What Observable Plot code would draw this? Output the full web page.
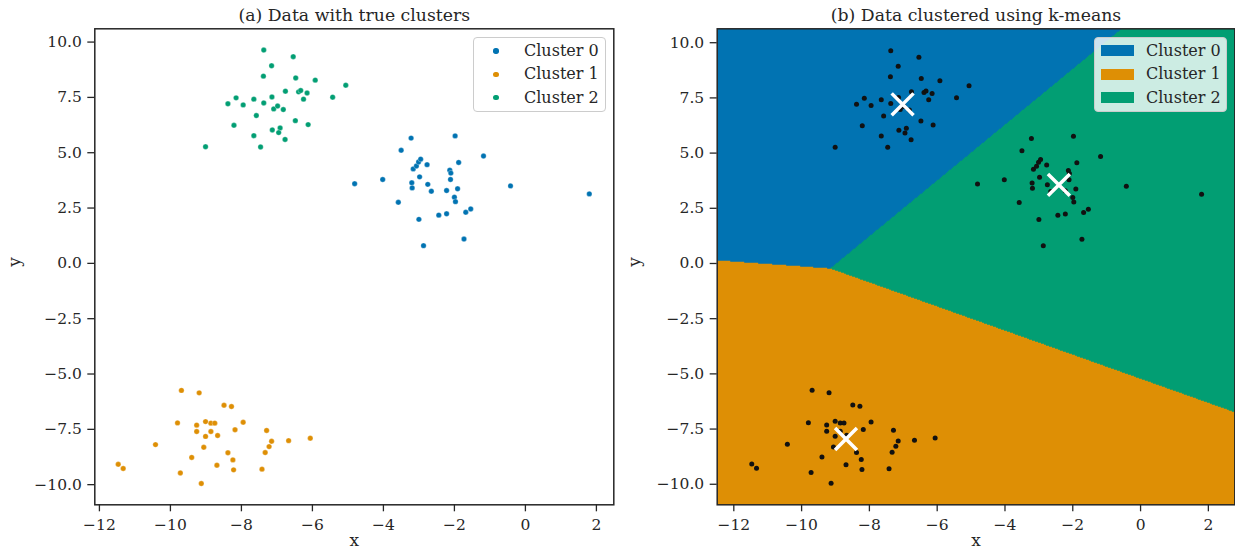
<!DOCTYPE html>
<html>
<head>
<meta charset="utf-8">
<script src="https://cdn.jsdelivr.net/npm/d3@7"></script>
<script src="https://cdn.jsdelivr.net/npm/@observablehq/plot@0.6"></script>
<style>
  body { margin: 0; background: #fff; }
  #fig { position: relative; width: 1235px; height: 550px; font-family: "DejaVu Serif", serif; color: #262626; overflow: hidden; }
  #fig svg { position: absolute; top: 0; }
  .legend { position: absolute; box-sizing: border-box; background: rgba(255,255,255,0.8); border: 1px solid #cccccc; border-radius: 4px; }
  .row { position: absolute; left: 0; height: 20px; line-height: 20px; font-size: 16px; white-space: nowrap; }
  .mk { position: absolute; }
</style>
</head>
<body>
<div id="fig"></div>
<script>
// ---------------- data ----------------
const clusterLabels = ["Cluster 0", "Cluster 1", "Cluster 2"];

const cluster0X = [-4.81, -4.02, -3.58, -3.22, -3.50, -3.16, -3.07, -3.01, -2.95, -2.98, -3.20, -3.19, -2.77, -2.75, -2.65, -3.00, -2.87,
                   -2.44, -2.22, -2.22, -2.13, -2.10, -2.11, -1.98, -1.88, -1.91, -2.00, -1.97, -1.68, -1.54, -1.73, -1.18, -0.42, 1.80];
const cluster0Y = [3.60, 3.79, 2.76, 5.66, 5.11, 4.27, 4.40, 4.58, 4.71, 3.91, 3.64, 3.41, 4.46, 3.57, 3.26, 1.99, 0.80,
                   2.18, 2.24, 3.29, 4.21, 4.08, 3.79, 5.76, 4.56, 3.37, 2.99, 2.79, 2.31, 2.46, 1.10, 4.85, 3.50, 3.14];

const cluster1X = [-11.47, -11.33, -10.42, -9.80, -9.69, -9.72, -9.40, -9.26, -9.26, -9.19, -9.13, -9.06, -9.01, -9.01, -8.86, -8.75, -8.86,
                   -8.67, -8.69, -8.49, -8.28, -8.38, -8.24, -8.22, -8.18, -7.95, -7.42, -7.33, -7.29, -7.22, -7.15, -6.67, -6.06];
const cluster1Y = [-9.08, -9.27, -8.19, -7.21, -5.74, -9.47, -8.77, -7.31, -7.60, -5.85, -9.95, -8.31, -7.15, -7.82, -7.22, -7.22, -7.60,
                   -7.78, -9.12, -6.41, -6.47, -8.56, -8.88, -9.33, -7.52, -7.18, -9.30, -8.55, -7.55, -8.28, -8.04, -8.01, -7.90];

const cluster2X = [-9.01, -8.38, -8.15, -7.95, -8.21, -7.65, -7.58, -7.65, -7.46, -7.37, -7.38, -7.15, -7.37, -7.14, -7.09, -6.98, -6.82,
                   -7.13, -6.91, -6.95, -6.77, -6.76, -6.54, -6.47, -6.48, -6.39, -6.33, -6.25, -6.15, -6.12, -5.92, -5.43, -5.06];
const cluster2Y = [5.27, 7.21, 7.48, 7.16, 6.24, 7.42, 6.68, 5.77, 5.26, 9.64, 8.46, 8.93, 7.25, 7.52, 6.98, 7.11, 6.95,
                   6.03, 6.12, 5.91, 5.60, 7.78, 9.34, 8.38, 6.45, 7.75, 7.81, 7.42, 7.70, 6.27, 8.28, 7.51, 8.05];

// k-means centroids (labels are the k-means labels)
const centroidX = [-7.02, -8.69, -2.41];
const centroidY = [7.21, -7.95, 3.56];

const xTicks = [-12, -10, -8, -6, -4, -2, 0, 2];
const yTicks = [-10, -7.5, -5, -2.5, 0, 2.5, 5, 7.5, 10];

// ---------------- styles ----------------
const palette = ["#0173b2", "#de8f05", "#029e73"];
const ink = "#262626";
const fontFamily = "DejaVu Serif";

// ---------------- tables ----------------
const allX = [cluster0X, cluster1X, cluster2X];
const allY = [cluster0Y, cluster1Y, cluster2Y];
const points = [];
allX.forEach((xs, k) => xs.forEach((x, i) => points.push({x, y: allY[k][i], label: clusterLabels[k]})));
const centroids = centroidX.map((x, i) => ({x, y: centroidY[i], label: clusterLabels[i]}));

// nearest centroid in data space (k-means decision rule)
function nearestLabel(x, y) {
  let best = 0, bd = Infinity;
  for (let k = 0; k < centroidX.length; ++k) {
    const d = (x - centroidX[k]) ** 2 + (y - centroidY[k]) ** 2;
    if (d < bd) { bd = d; best = k; }
  }
  return clusterLabels[best];
}

const minus = (s) => s.replace("-", "\u2212");
const fmtX = (d) => minus(String(d));
const fmtY = (d) => minus(d.toFixed(1));

function commonMarks(title, dxY) {
  return [
    Plot.frame({stroke: ink, strokeWidth: 1.5}),
    Plot.axisX({ticks: xTicks, tickFormat: fmtX, tickSize: 7, tickPadding: 7, strokeWidth: 1.3, stroke: ink, fill: ink, label: null, fontSize: 15.5}),
    Plot.axisY({ticks: yTicks, tickFormat: fmtY, tickSize: 7, tickPadding: 6, strokeWidth: 1.3, stroke: ink, fill: ink, label: null, fontSize: 15.5}),
    Plot.text([title], {frameAnchor: "top", lineAnchor: "bottom", dy: -8, fontSize: 17.3, fill: ink}),
    Plot.text(["x"], {frameAnchor: "bottom", lineAnchor: "bottom", dy: 41.5, fontSize: 17, fill: ink}),
    Plot.text(["y"], {frameAnchor: "left", lineAnchor: "bottom", dx: dxY, rotate: -90, fontSize: 17, fill: ink})
  ];
}

const styleObj = {fontFamily, fontSize: "15.5px", color: ink, background: "transparent", overflow: "visible"};

const leftX = [-12.13, 2.49], leftY = [-10.91, 10.6];
const rightX = [-12.49, 2.78], rightY = [-10.93, 10.63];

const left = Plot.plot({
  width: 620, height: 550,
  marginLeft: 94.3, marginRight: 6.7, marginTop: 28.3, marginBottom: 45.7,
  style: styleObj,
  x: {domain: leftX, axis: null},
  y: {domain: leftY, axis: null},
  color: {type: "ordinal", domain: clusterLabels, range: palette},
  marks: [
    Plot.dot(points, {x: "x", y: "y", fill: "label", r: 2.7, stroke: "white", strokeWidth: 0.3}),
    ...commonMarks("(a) Data with true clusters", -75)
  ]
});
left.style.left = "0px";

const right = Plot.plot({
  width: 615, height: 550,
  marginLeft: 96.7, marginRight: 0.7, marginTop: 28.3, marginBottom: 45.7,
  style: styleObj,
  x: {domain: rightX, axis: null},
  y: {domain: rightY, axis: null},
  color: {type: "ordinal", domain: clusterLabels, range: palette},
  marks: [
    Plot.raster({x1: rightX[0], x2: rightX[1], y1: rightY[0], y2: rightY[1], fill: nearestLabel, pixelSize: 1}),
    Plot.dot(points, {x: "x", y: "y", fill: "#111111", r: 2.5}),
    Plot.dot(centroids, {x: "x", y: "y", symbol: "times", r: 10, stroke: "white", strokeWidth: 3.5, strokeLinecap: "butt"}),
    ...commonMarks("(b) Data clustered using k-means", -77)
  ]
});
right.style.left = "620px";

const fig = document.getElementById("fig");
fig.appendChild(left);
fig.appendChild(right);

// ---------------- legends ----------------
function legend(leftPx, kind) {
  const box = document.createElement("div");
  box.className = "legend";
  Object.assign(box.style, {left: leftPx + "px", top: "36.7px", width: "133px", height: "75.6px"});
  const centers = [13.3, 36.6, 60];
  clusterLabels.forEach((lab, i) => {
    const row = document.createElement("div");
    row.className = "row";
    row.style.top = (centers[i] - 10) + "px";
    const mk = document.createElement("span");
    mk.className = "mk";
    if (kind === "dot") {
      Object.assign(mk.style, {left: "19.3px", top: "7.3px", width: "5.4px", height: "5.4px", borderRadius: "50%", background: palette[i]});
    } else {
      Object.assign(mk.style, {left: "6px", top: "4.5px", width: "33px", height: "11px", background: palette[i]});
    }
    const t = document.createElement("span");
    t.textContent = lab;
    Object.assign(t.style, {position: "absolute", left: (kind === "dot" ? 50 : 51) + "px"});
    row.appendChild(mk);
    row.appendChild(t);
    box.appendChild(row);
  });
  fig.appendChild(box);
}
legend(473, "dot");
legend(1094, "patch");
</script>
</body>
</html>
